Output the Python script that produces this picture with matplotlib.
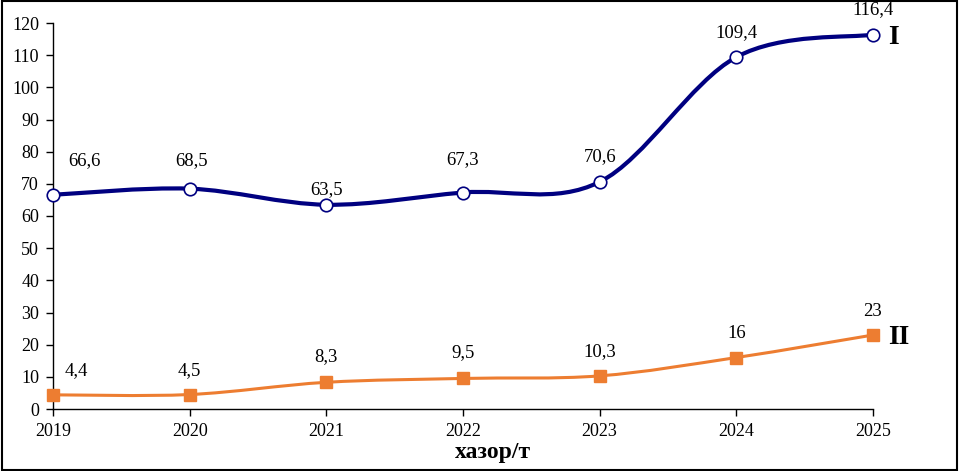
import matplotlib

matplotlib.use("Agg")
import matplotlib.pyplot as plt
import numpy as np
from matplotlib.path import Path
from matplotlib.patches import PathPatch, Rectangle

years = [2019, 2020, 2021, 2022, 2023, 2024, 2025]
series_1 = [66.6, 68.5, 63.5, 67.3, 70.6, 109.4, 116.4]
series_2 = [4.4, 4.5, 8.3, 9.5, 10.3, 16, 23]
labels_1 = ["66,6", "68,5", "63,5", "67,3", "70,6", "109,4", "116,4"]
labels_2 = ["4,4", "4,5", "8,3", "9,5", "10,3", "16", "23"]

C_NAVY = "#000080"
C_ORANGE = "#ED7D31"
SERIF = "Liberation Serif"

# label offsets in pixels (dx, dy), as placed in the original
OFF_1 = [(31, 34), (2, 28), (0, 15), (0, 33), (0, 25), (0, 25), (0, 25)]
OFF_2 = [(23, 24), (0, 24), (0, 26), (0, 26), (0, 24), (0, 24), (0, 24)]


def smooth_path(x, y):
    # Excel-style smoothed line: cubic bezier, control points at 1/6 of neighbour span
    pts = np.column_stack([x, y]).astype(float)
    n = len(pts)
    verts = [pts[0]]
    codes = [Path.MOVETO]
    for i in range(n - 1):
        p0 = pts[i - 1] if i > 0 else pts[i]
        p1, p2 = pts[i], pts[i + 1]
        p3 = pts[i + 2] if i + 2 < n else pts[i + 1]
        verts += [p1 + (p2 - p0) / 6, p2 - (p3 - p1) / 6, p2]
        codes += [Path.CURVE4] * 3
    return Path(verts, codes)


fig = plt.figure(figsize=(9.59, 4.71), dpi=100)
ax = fig.add_axes([53 / 959, 62 / 471, 820 / 959, 386 / 471])

ax.add_patch(PathPatch(smooth_path(years, series_1), fc="none", ec=C_NAVY, lw=3.0,
                       capstyle="round", zorder=2))
ax.add_patch(PathPatch(smooth_path(years, series_2), fc="none", ec=C_ORANGE, lw=2.2,
                       capstyle="round", zorder=2))
ax.plot(years, series_1, ls="none", marker="o", ms=9, mfc="white", mec=C_NAVY, mew=1.2,
        zorder=3, clip_on=False)
ax.plot(years, series_2, ls="none", marker="s", ms=8, mfc=C_ORANGE, mec=C_ORANGE,
        zorder=3, clip_on=False)

for x, y, t, (dx, dy) in zip(years, series_1, labels_1, OFF_1):
    ax.annotate(t, (x, y), xytext=(dx * 0.72, dy * 0.72), textcoords="offset points",
                ha="center", va="center", fontsize=13.5, family=SERIF)
for x, y, t, (dx, dy) in zip(years, series_2, labels_2, OFF_2):
    ax.annotate(t, (x, y), xytext=(dx * 0.72, dy * 0.72), textcoords="offset points",
                ha="center", va="center", fontsize=13.5, family=SERIF)

ax.annotate("I", (years[-1], series_1[-1]), xytext=(11, -2), textcoords="offset points",
            ha="left", va="center", fontsize=20, fontweight="bold", family=SERIF)
ax.annotate("II", (years[-1], series_2[-1]), xytext=(11, -2), textcoords="offset points",
            ha="left", va="center", fontsize=20, fontweight="bold", family=SERIF)

ax.set_xlim(2019, 2025)
ax.set_ylim(0, 120)
ax.set_xticks(years)
ax.set_yticks(np.arange(0, 121, 10))
ax.tick_params(direction="out", length=5, width=1, labelsize=13, pad=5)
for lab in ax.get_xticklabels() + ax.get_yticklabels():
    lab.set_family(SERIF)
ax.spines["top"].set_visible(False)
ax.spines["right"].set_visible(False)
ax.spines["left"].set_linewidth(1)
ax.spines["bottom"].set_linewidth(1)
ax.set_xlabel("хазор/т", fontsize=17, fontweight="bold", family=SERIF, labelpad=0)
ax.xaxis.set_label_coords(0.537, -0.085)

fig.patches.append(Rectangle((0.002, 0.002), 0.996, 0.996, transform=fig.transFigure,
                             fill=False, ec="black", lw=1.5))

fig.savefig("out.png", dpi=100)
